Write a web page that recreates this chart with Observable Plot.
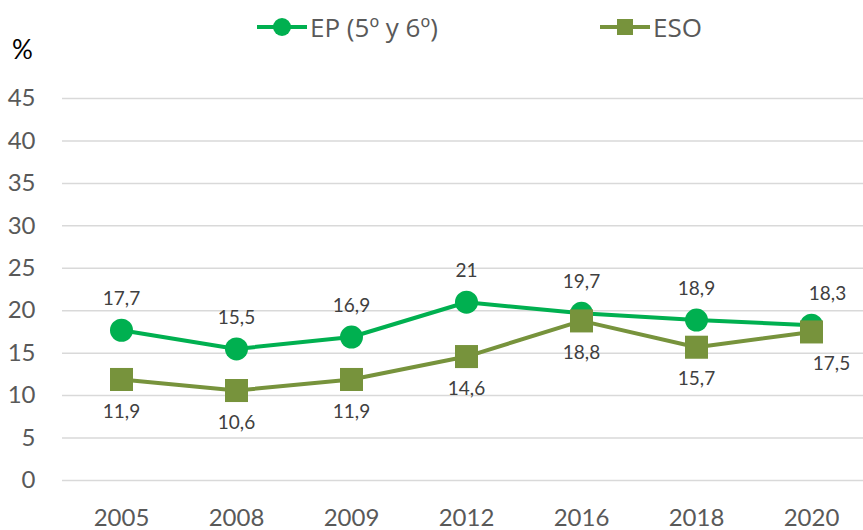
<!DOCTYPE html>
<html><head><meta charset="utf-8">
<script src="https://cdn.jsdelivr.net/npm/d3@7"></script>
<script src="https://cdn.jsdelivr.net/npm/@observablehq/plot@0.6"></script>
<style>
body{margin:0;background:#fff;font-family:Lato,"Open Sans",sans-serif;}
#legend{position:relative;height:30px;width:863px;}
.item{position:absolute;top:8px;display:flex;align-items:center;height:38px;font-size:26px;color:#595959;font-family:"Open Sans",sans-serif;}
.item svg{margin-right:3px;}
</style></head><body>
<div id="legend"></div>
<div id="chart"></div>
<script>
const years = ["2005","2008","2009","2012","2016","2018","2020"];
const epValues = [17.7,15.5,16.9,21,19.7,18.9,18.3];
const esoValues = [11.9,10.6,11.9,14.6,18.8,15.7,17.5];
const yTicks = [0,5,10,15,20,25,30,35,40,45];
const seriesNames = ["EP (5º y 6º)","ESO"];
const seriesColors = ["#00B050","#77933C"];

const ep = years.map((y,i)=>({year:y, value:epValues[i], series:seriesNames[0], i}));
const eso = years.map((y,i)=>({year:y, value:esoValues[i], series:seriesNames[1], i}));
const fmt = v => String(v).replace(".", ",");

// legend
const legend = d3.select("#legend");
const lefts = [257, 600];
seriesNames.forEach((name, k) => {
  const it = legend.append("div").attr("class","item").style("left", lefts[k]+"px");
  const sw = it.append("svg").attr("width",50).attr("height",24);
  sw.append("line").attr("x1",0).attr("x2",50).attr("y1",12).attr("y2",12)
    .attr("stroke",seriesColors[k]).attr("stroke-width",4);
  if (k===0) sw.append("circle").attr("cx",25).attr("cy",12).attr("r",9).attr("fill",seriesColors[k]);
  else sw.append("rect").attr("x",17).attr("y",4).attr("width",16).attr("height",16).attr("fill",seriesColors[k]);
  it.append("span").text(name);
});

const chart = Plot.plot({
  width: 863, height: 500,
  marginTop: 68, marginBottom: 50, marginLeft: 62, marginRight: 0,
  x: {type: "point", domain: years, range: [119, 813], padding: 0},
  y: {domain: [0, 45]},
  style: {fontFamily: "Lato, 'Open Sans', sans-serif", background: "white"},
  marks: [
    Plot.ruleY(yTicks, {stroke: "#d9d9d9", strokeWidth: 1.5}),
    Plot.axisY({ticks: yTicks, tickSize: 0, tickPadding: 27, fontSize: 24, fill: "#595959", label: null}),
    Plot.axisX({tickSize: 0, tickPadding: 28, fontSize: 24, fill: "#595959", label: null}),
    Plot.text(["%"], {frameAnchor: "top-left", textAnchor: "middle", lineAnchor: "middle", dx: -40, dy: -48, fontSize: 26, fill: "#000"}),
    Plot.line(ep, {x: "year", y: "value", stroke: seriesColors[0], strokeWidth: 4}),
    Plot.dot(ep, {x: "year", y: "value", r: 11.5, fill: seriesColors[0], symbol: "circle"}),
    Plot.line(eso, {x: "year", y: "value", stroke: seriesColors[1], strokeWidth: 4}),
    Plot.dot(eso, {x: "year", y: "value", r: 13, fill: seriesColors[1], symbol: "square"}),
    Plot.text(ep, {filter: d => d.i < 6, x: "year", y: "value", text: d => fmt(d.value), dy: -31, fontSize: 19, fill: "#404040"}),
    Plot.text(ep, {filter: d => d.i === 6, x: "year", y: "value", text: d => fmt(d.value), dy: -31, dx: 16, fontSize: 19, fill: "#404040"}),
    Plot.text(eso, {filter: d => d.i < 6, x: "year", y: "value", text: d => fmt(d.value), dy: 32, fontSize: 19, fill: "#404040"}),
    Plot.text(eso, {filter: d => d.i === 6, x: "year", y: "value", text: d => fmt(d.value), dy: 32, dx: 20, fontSize: 19, fill: "#404040"})
  ]
});
document.getElementById("chart").append(chart);
</script>
</body></html>
